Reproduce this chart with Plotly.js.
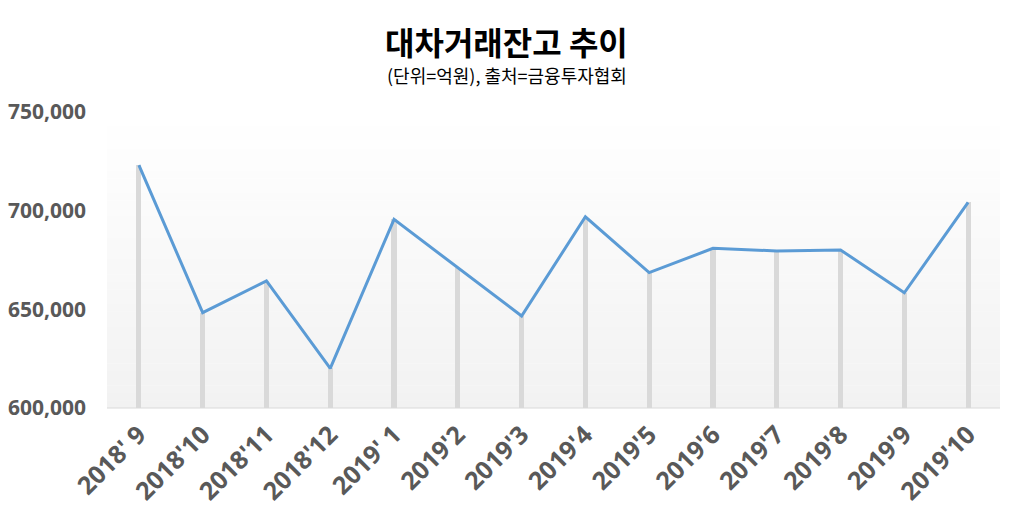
<!DOCTYPE html>
<html><head><meta charset="utf-8">
<script src="https://cdn.plot.ly/plotly-3.0.1.min.js"></script>
<style>html,body{margin:0;padding:0;background:#fff;}#chart{width:1016px;height:520px;}</style>
</head><body><div id="chart"></div>
<script>
const categories = ["2018' 9","2018'10","2018'11","2018'12","2019' 1","2019'2","2019'3","2019'4","2019'5","2019'6","2019'7","2019'8","2019'9","2019'10"];
const balance = [723100, 648300, 664400, 620100, 695600, 670900, 646600, 696900, 668600, 680900, 679600, 680100, 658400, 704200];
const yTicks = [600000, 650000, 700000, 750000];
const yTickLabels = ["600,000", "650,000", "700,000", "750,000"];

// gradient background bands
const shapes = [];
const N = 40;
for (let i = 0; i < N; i++) {
  const t = (i + 0.5) / N; // 0 top -> 1 bottom
  const c = Math.round(255 - 13 * t);
  shapes.push({type:'rect', xref:'x domain', yref:'y domain', x0:0, x1:1,
    y0: 1 - (i + 1) / N, y1: 1 - i / N + 0.001, line:{width:0},
    fillcolor:`rgb(${c},${c},${c})`, layer:'below'});
}
shapes.push({type:'line', xref:'x domain', yref:'y domain', x0:0, x1:1, y0:0, y1:0,
  line:{color:'#d9d9d9', width:1.2}, layer:'above'});

const traces = [
  {type:'bar', x: categories, y: balance, width: 0.08,
   marker:{color:'#d9d9d9', line:{width:0}}, hoverinfo:'skip', showlegend:false},
  {type:'scatter', mode:'lines', x: categories, y: balance,
   line:{color:'#5b9bd5', width:3}, showlegend:false}
];

const layout = {
  width:1016, height:520,
  margin:{l:107, r:16, t:112, b:112},
  paper_bgcolor:'#ffffff', plot_bgcolor:'rgba(0,0,0,0)',
  shapes: shapes,
  annotations:[
    {text:'<b>대차거래잔고 추이</b>', xref:'paper', yref:'paper', x:0.5, y:1, xanchor:'center', yanchor:'middle',
     xshift:-47, yshift:71, showarrow:false, font:{family:'"Noto Sans CJK KR", sans-serif', size:32, color:'#000'}},
    {text:'(단위=억원), 출처=금융투자협회', xref:'paper', yref:'paper', x:0.5, y:1, xanchor:'center', yanchor:'middle',
     xshift:-47, yshift:37, showarrow:false, font:{family:'"Noto Sans CJK KR", sans-serif', size:18, color:'#000'}}
  ],
  xaxis:{type:'category', range:[-0.5, 13.5], showgrid:false, zeroline:false, showline:false,
    ticks:'', tickangle:-45, ticklabelstandoff:6, tickfont:{family:'"Open Sans", "Noto Sans", sans-serif', size:25, color:'#595959', weight:'bold'},
    fixedrange:true},
  yaxis:{range:[600000, 750000], tickvals: yTicks, ticktext: yTickLabels, showgrid:false, zeroline:false, showline:false,
    ticks:'', ticklabelstandoff:20, tickfont:{family:'"Open Sans", "Noto Sans", sans-serif', size:21, color:'#595959', weight:'bold'},
    fixedrange:true},
  bargap:0
};
Plotly.newPlot('chart', traces, layout, {displayModeBar:false, staticPlot:true});
</script>
</body></html>
